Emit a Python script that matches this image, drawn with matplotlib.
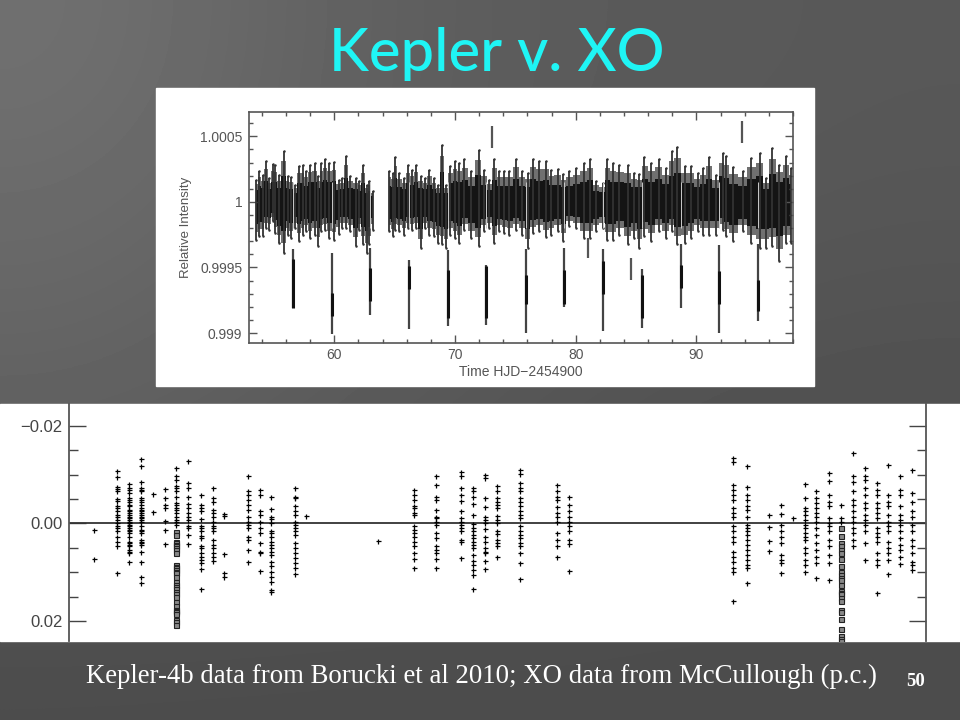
import numpy as np
from matplotlib import pyplot as plt
from matplotlib.patches import Rectangle
from matplotlib.ticker import FixedLocator, MultipleLocator

W, H = 960, 720

# slide background brightness, read on a coarse grid
bg_levels = [[112, 100, 92, 90, 88],
             [106, 98, 92, 88, 86],
             [100, 94, 88, 84, 82],
             [92, 88, 84, 80, 78],
             [76, 76, 76, 76, 76]]

# top panel: Kepler light curve, offsets from 1 in ppm
band_t = [53.51, 53.78, 54.06, 54.34, 54.61, 54.89, 55.11, 55.44, 55.80, 56.13, 56.41, 56.77, 57.10, 57.38,
          57.65, 57.98, 58.40, 58.67, 58.90, 59.23, 59.59, 60.00, 60.36, 60.64, 60.97, 61.30, 61.80, 62.07,
          62.35, 62.68, 62.90, 63.23]
band_hi = [170, 239, 203, 310, 183, 290, 284, 203, 386, 196, 188, 132, 272, 279, 234, 284, 297, 196, 297, 323,
           297, 305, 170, 183, 348, 196, 183, 157, 279, 132, 157, 81]
band_lo = [-287, -262, -262, -198, -211, -147, -236, -312, -389, -249, -274, -198, -295, -249, -224, -274,
           -249, -338, -224, -211, -274, -287, -244, -198, -198, -224, -338, -211, -325, -389, -325, -211]

band2_t = [64.50, 64.83, 65.06, 65.39, 65.80, 66.08, 66.44, 66.77, 67.18, 67.54, 67.87, 68.29, 68.62, 68.92,
           69.25, 69.59, 70.00, 70.36, 70.77, 71.33, 71.96, 72.43, 72.85, 73.26, 73.67, 74.09, 74.50, 75.05,
           75.55, 76.02, 76.44, 76.99, 77.54, 77.96, 78.51, 78.98, 79.48, 80.03, 80.72, 81.19, 81.69, 82.24,
           82.57, 83.07, 83.62, 84.31, 84.86, 85.28, 85.69, 86.24, 86.88, 87.49, 87.96, 88.40, 89.06, 89.56,
           90.11, 90.52, 91.02, 91.63, 92.18, 92.46, 93.01, 93.84, 94.53, 95.28, 95.77, 96.27, 96.88, 97.43,
           97.85]
band2_hi = [234, 221, 343, 221, 183, 279, 246, 284, 196, 183, 246, 183, 132, 437, 132, 272, 310, 297, 323, 234,
            399, 246, 170, 323, 234, 234, 234, 328, 234, 221, 328, 310, 315, 246, 254, 213, 234, 259, 297, 323,
            157, 145, 323, 297, 284, 279, 221, 213, 340, 297, 328, 259, 386, 417, 272, 272, 221, 259, 340, 208,
            373, 348, 264, 234, 335, 373, 183, 411, 284, 348, 259]
band2_lo = [-224, -262, -211, -224, -249, -198, -211, -198, -351, -198, -249, -262, -312, -325, -351, -249,
            -274, -312, -211, -274, -338, -224, -198, -312, -224, -236, -249, -211, -249, -351, -236, -224,
            -269, -249, -224, -295, -185, -198, -274, -274, -224, -198, -287, -287, -249, -325, -274, -351,
            -262, -300, -224, -274, -224, -325, -312, -274, -224, -249, -249, -249, -211, -262, -300, -224,
            -312, -351, -351, -338, -452, -312, -312]

transit_t = [56.57, 59.78, 62.98, 66.22, 69.42, 72.57, 75.88, 79.06, 82.29, 85.47, 88.73, 91.90, 95.14]
transit_hi = [-356, -389, -351, -445, -368, -478, -363, -351, -363, -511, -325, -330, -325]
transit_lo = [-808, -1011, -866, -973, -947, -935, -998, -803, -986, -960, -808, -998, -909]
transit_core_hi = [-439, -693, -503, -490, -516, -490, -554, -516, -452, -554, -478, -528, -592]
transit_core_lo = [-808, -871, -757, -668, -884, -884, -782, -782, -706, -884, -655, -782, -833]

stray_t = [73.10, 81.00, 84.55, 93.78]
stray_hi = [579, -274, -427, 615]
stray_lo = [412, -427, -592, 450]

# bottom panel: XO photometry, one list per night, in 0.001 mag
night_x = [94, 117, 128.5, 141, 153, 165, 188, 201, 213, 224, 247.5, 260, 271.5, 295.5, 306, 378, 414, 436.5, 461,
           473, 485, 497, 520, 557.5, 569, 733, 747, 769.5, 781, 793, 805, 816, 829, 853, 865.5, 877, 888.5, 900,
           912, 176, 841]
night_y = [
    [1.3, 7.3],
    [-10.8, -9.5, -7.5, -7.1, -6.6, -5.1, -4.7, -3.6, -3.2, -2.5, -1.8, -1.3, -0.8, 0, 0.5, 1, 1.6, 2.7, 3.7, 4.7, 10.2],
    [-8, -7.3, -6.9, -6.2, -5.2, -4.9, -4.5, -3.8, -3.5, -2.8, -2.5, -2.1, -1.8, -1.4, -1.1, -0.8, -0.4, 0, 0.3, 0.6,
     1, 1.3, 1.6, 2, 2.7, 3.7, 4, 4.4, 4.7, 5.4, 5.8, 6.1, 7.8],
    [-13.2, -11.7, -8.6, -7.3, -6.9, -6.6, -5.2, -4.9, -4.5, -3.8, -3.2, -2.8, -2.5, -2.1, -1.8, -1.4, -1.1, -0.8,
     -0.4, 0.6, 1.3, 1.6, 2, 3.4, 3.7, 4, 4.4, 5.8, 7.8, 10.9, 12.3],
    [-6, -2.4],
    [-7, -5.2, -3.8, -3.2, -0.6, 1.3, 4.2],
    [-12.9, -8.4, -7.3, -5.5, -4, -3.2, -2.1, -1.4, -0.8, 0.5, 1, 2.3, 4.2],
    [-5.8, -3.8, -3.2, -2.5, -0.9, 0.5, 1, 1.6, 2.5, 3, 4.7, 5.1, 6, 6.8, 7.5, 8.2, 9.4, 13.4],
    [-7.3, -5.2, -4.5, -2.8, -2.1, -1.4, -0.4, 0.5, 1, 1.6, 3.4, 4.4, 5.1, 6.1, 6.8, 7.7],
    [-2, -1.6, 6.3, 10.2, 11],
    [-9.7, -6.6, -5.9, -4.9, -3.8, -2.8, -1.4, -0.4, 0.3, 1, 2.7, 3.4, 5.4, 8],
    [-6.9, -5.9, -2.5, -1.8, -0.4, 1, 2, 4, 5.8, 6.1, 9.7],
    [-5.5, -3, -1.4, -0.9, 0, 1.5, 2, 2.7, 3.7, 4.4, 5.1, 5.8, 6.4, 7.8, 8.8, 9.9, 10.9, 11.9, 13.6, 14],
    [-7.3, -5.5, -5.2, -3.5, -2.5, -1.8, -0.4, 0.3, 1, 1.6, 2.3, 4, 5.1, 6.1, 7.1, 8.2, 9.2, 10.4],
    [-1.5],
    [3.5],
    [-6.9, -5.9, -4.9, -3.5, -3.2, -2.1, -1.8, 0.6, 1.3, 2, 2.7, 3.7, 4.7, 6, 7.3, 9.2],
    [-9.7, -7.9, -5.5, -4.9, -2.8, -1.4, -1.1, -0.4, 0.3, 2, 3, 4.7, 5.4, 6.1, 7.3, 9.2],
    [-10.6, -9.7, -7.3, -5.9, -4.7, -2.5, -1.1, -0.4, 0.3, 1, 1.5, 3.4, 3.7, 7.1],
    [-7.3, -6.6, -5.5, -4, -1.8, 0.1, 1, 1.6, 2.3, 3, 3.7, 4.4, 5.1, 6.4, 7.7, 8.5, 9.5, 10.5, 13.5],
    [-10, -9.3, -5.3, -3.4, -1.4, -0.8, -0.2, 1.1, 2.8, 3.7, 5.1, 6.1, 5.8, 7.6, 9.3],
    [-7.6, -6.6, -5.2, -4.5, -3.8, -3.2, -1.6, -0.8, 0, 1.5, 2.2, 3.4, 4, 4.7, 6.9],
    [-10.9, -10.2, -8.3, -7.3, -6.6, -5.2, -4.5, -3.5, -2.5, -1.8, -1.1, 0.6, 1.6, 2.3, 3, 4, 4.7, 6.1, 8.2, 11.3],
    [-7.9, -6.6, -5.5, -4.9, -3.4, -2.1, -1.4, -0.4, 2, 3.4, 4.6, 6.9],
    [-5.5, -3.8, -2.5, -1.3, -0.4, 0.5, 1.5, 3.4, 4.2, 9.7],
    [-13.4, -12.7, -7.9, -6.9, -5.9, -4.9, -3.2, -2.1, -1.4, 0.6, 1.6, 2.7, 3.7, 5.8, 6.8, 7.8, 9.2, 9.9, 15.9],
    [-11.8, -7.4, -5.9, -4.9, -3.5, -2.8, -1.4, 0.3, 1, 1.6, 2.3, 3.4, 4.4, 5.4, 6.4, 7.5, 8.5, 9.2, 12.2],
    [-1.7, 0.8, 3.5, 5.6],
    [-3.8, -1.9, 0.4, 1.6, 2.8, 4, 6.4, 7.5, 8.2, 10.1],
    [-1.1],
    [-8, -5.2, -3.2, -2.5, -1.8, -0.8, 0.3, 1, 2, 2.7, 3.4, 5.1, 6.1, 7.5, 8.5, 9.9],
    [-6.6, -5.2, -4.2, -3.2, -2.1, -1.4, -0.4, 1, 2.3, 4, 5.4, 6.8, 8.2, 11.2],
    [-10.3, -8.8, -5.9, -4.5, -3.5, -1.1, 0, 0.6, 1.6, 3.4, 4.7, 6.4, 8.2, 11.6],
    [-14.5, -9.7, -8.6, -6.6, -4.9, -3.8, -2.5, -1.4, -0.4, 1, 2, 3.4, 4.7],
    [-11.4, -9.7, -9, -7.3, -5.9, -4.2, -3.2, -1.8, -0.8, 0.3, 1.6, 4, 7.5],
    [-8.3, -6.9, -5.9, -4.2, -3.2, -2.1, -1.1, 1, 2, 2.7, 3.7, 6.1, 7.5, 8.5, 14.3],
    [-12, -5.9, -4.5, -3.5, -1.8, -0.4, 0.6, 1.6, 3.7, 5.1, 6.1, 7.5, 10.4],
    [-9.7, -6.9, -5.9, -3.6, -1.8, -0.8, 0.3, 1.6, 3, 4.4, 5.4, 6.8, 8.4],
    [-11, -6.2, -4.5, -2.5, -1.4, 0.3, 1.6, 3.4, 4.7, 6.1, 7.8, 8.5, 9.5],
    [-11.4, -9.7, -9, -7.6, -7.3, -6.6, -5.5, -4.2, -3.8, -3.2, -2.8, -2.1, -1.4, -0.8, -0.4, 0.3],
    [-3.8, -1.1, -0.4],
]

# in-transit nights are plotted as squares
square_x = [176, 841]
square_y = [
    [1.8, 2.3, 3.7, 4, 4.4, 4.7, 5.1, 5.4, 6.1, 8.6, 8.9, 9.2, 9.5, 9.9, 10.2, 10.9, 12.1, 12.6, 13, 13.5, 14, 14.5,
     15, 16.2, 17, 17.7, 18, 18.2, 18.5, 19.8, 20.3, 20.8],
    [1, 2.5, 4, 4.7, 5.4, 6.1, 7.3, 8.8, 9.9, 10.5, 11.2, 11.6, 12.6, 13.9, 14.2, 14.5, 15.2, 15.9, 17.7, 18.1, 19.5,
     21.7, 23, 23.6, 24]
]

top_xticks = [60, 70, 80, 90]
top_yticks = [0.999, 0.9995, 1, 1.0005]
top_ylabels = ['0.999', '0.9995', '1', '1.0005']
bot_yticks = [-20, 0, 20]
bot_ylabels = ['\u22120.02', '0.00', '0.02']
bot_yminor = [-15, -10, -5, 5, 10, 15]


def px_axes(fig, x0, y0, x1, y1, **kw):
    # axes placed by pixel box, y measured from the top of the slide
    return fig.add_axes([x0 / W, 1 - y1 / H, (x1 - x0) / W, (y1 - y0) / H], **kw)


def rel(ppm):
    return 1 + np.array(ppm, dtype=float) * 1e-6


fig = plt.figure(figsize=(9.6, 7.2), dpi=100)

# backdrop: the coarse levels only
bg = fig.add_axes([0, 0, 1, 1], zorder=-5)
bg.imshow(bg_levels, cmap='gray', vmin=0, vmax=255, aspect='auto', interpolation='bicubic',
          extent=[0, W, H, 0])
bg.set_axis_off()

# white paper behind the two plots
fig.add_artist(Rectangle((156 / W, 1 - 386 / H), 658 / W, 298 / H, transform=fig.transFigure, color='white', zorder=-4))
fig.add_artist(Rectangle((0, 1 - 641 / H), 1, 237 / H, transform=fig.transFigure, color='white', zorder=-4))

# --- Kepler panel
ax1 = px_axes(fig, 249.3, 112, 793, 343)
ax1.patch.set_alpha(0)
ax1.set_xlim(52.96, 98.0)
ax1.set_ylim(0.998924, 1.000685)
gray = '#555555'

for t, hi, lo in [(band_t, band_hi, band_lo), (band2_t, band2_hi, band2_lo)]:
    t, hi, lo = np.array(t), np.array(hi), np.array(lo)
    ax1.fill_between(t, rel(lo * 0.8), rel(hi * 0.8), step='mid', color='#707070', lw=0)
    ax1.vlines(t, rel(lo), rel(hi), color='#333333', lw=1.3)
    ax1.fill_between(t, rel(lo * 0.58), rel(hi * 0.52), step='mid', color='#141414', lw=0)
    ax1.plot(t, rel(hi), ls='', marker='.', ms=1.6, color='#333333')
    ax1.plot(t, rel(lo), ls='', marker='.', ms=1.6, color='#333333')

ax1.vlines(transit_t, rel(transit_lo), rel(transit_hi), color='#444444', lw=1.6)
ax1.vlines(transit_t, rel(transit_core_lo), rel(transit_core_hi), color='#111111', lw=2.2)
ax1.vlines(transit_t, rel([-200] * 13), rel([150] * 13), color='#cccccc', lw=0.7)
ax1.vlines(stray_t, rel(stray_lo), rel(stray_hi), color='#555555', lw=1.6)

ax1.xaxis.set_major_locator(FixedLocator(top_xticks))
ax1.xaxis.set_minor_locator(MultipleLocator(2))
ax1.yaxis.set_major_locator(FixedLocator(top_yticks))
ax1.yaxis.set_minor_locator(MultipleLocator(0.0001))
ax1.set_yticklabels(top_ylabels)
ax1.tick_params(which='major', direction='in', top=True, right=True, length=5.5, width=1, color=gray,
                labelcolor=gray, labelsize=10, pad=5)
ax1.tick_params(axis='x', which='major', pad=3.5)
ax1.tick_params(which='minor', direction='in', top=True, right=True, length=3, width=1, color=gray)
for s in ax1.spines.values():
    s.set_color(gray)
    s.set_linewidth(1.2)
ax1.set_xlabel('Time HJD\u22122454900', color=gray, fontsize=10, labelpad=2, family='Liberation Sans')
ax1.set_ylabel('Relative Intensity', color=gray, fontsize=9.5, labelpad=6, family='Liberation Sans')
for lab in ax1.get_xticklabels() + ax1.get_yticklabels():
    lab.set_family('Liberation Sans')

# --- XO panel
ax2 = px_axes(fig, 69, 404, 926, 641)
ax2.patch.set_alpha(0)
ax2.set_xlim(69, 926)
ax2.set_ylim(24.1, -24.5)
ax2.axhline(0, color='#333333', lw=1.3)
for x, ys in zip(night_x, night_y):
    ax2.plot([x] * len(ys), ys, ls='', marker='+', ms=3.6, mew=0.9, color='black')
for x, ys in zip(square_x, square_y):
    ax2.plot([x] * len(ys), ys, ls='', marker='s', ms=3.6, mew=0.8, mfc='#888888', mec='#222222')

ax2.xaxis.set_visible(False)
ax2.yaxis.set_major_locator(FixedLocator(bot_yticks))
ax2.yaxis.set_minor_locator(FixedLocator(bot_yminor))
ax2.set_yticklabels(bot_ylabels)
ax2.tick_params(which='major', direction='in', right=True, length=12.5, width=1, color='#444444',
                labelcolor='#444444', labelsize=12, pad=4.5)
ax2.tick_params(which='minor', direction='in', right=True, length=6.5, width=1, color='#444444')
for lab in ax2.get_yticklabels():
    lab.set_family('Liberation Sans')
ax2.spines['top'].set_visible(False)
ax2.spines['bottom'].set_visible(False)
ax2.spines['left'].set_color('#555555')
ax2.spines['right'].set_color('#555555')
ax2.spines['left'].set_linewidth(1.3)
ax2.spines['right'].set_linewidth(1.3)

# --- slide text
fig.text(497 / W, 1 - 71 / H, 'Kepler v. XO', color='#1ff5f5', fontsize=43, ha='center', va='baseline',
         family='Lato', fontweight='medium')
fig.text(86 / W, 1 - 683 / H, 'Kepler-4b data from Borucki et al 2010; XO data from McCullough (p.c.)',
         color='white', fontsize=19.3, ha='left', va='baseline', family='Liberation Serif')
fig.text(916 / W, 1 - 686 / H, '50', color='white', fontsize=13.5, ha='center', va='baseline',
         family='Liberation Serif', fontweight='bold')

fig.savefig('out.png', dpi=100)
